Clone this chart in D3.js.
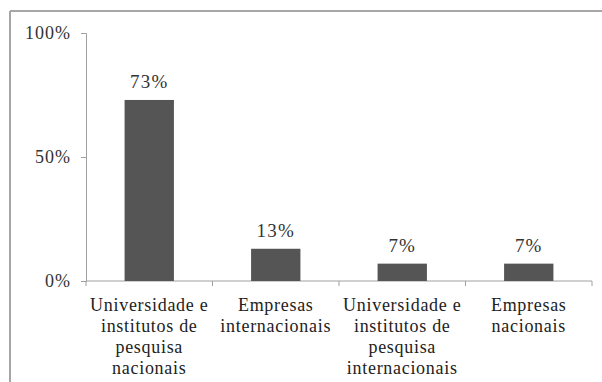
<!DOCTYPE html>
<html>
<head>
<meta charset="utf-8">
<script src="https://cdn.jsdelivr.net/npm/d3@7"></script>
<style>
  html, body { margin: 0; padding: 0; background: #fff; }
  svg { display: block; }
</style>
</head>
<body>
<svg id="chart" width="602" height="382"></svg>
<script>
// Partner types and share of cooperation (%)
const categories = [
  ["Universidade e", "institutos de", "pesquisa", "nacionais"],
  ["Empresas", "internacionais"],
  ["Universidade e", "institutos de", "pesquisa", "internacionais"],
  ["Empresas", "nacionais"]
];
const values = [73, 13, 7, 7];
const yTicks = [0, 50, 100];

const FONT = "'Liberation Serif', 'DejaVu Serif', 'Times New Roman', serif";
const svg = d3.select("#chart").attr("font-family", FONT);
const margin = { left: 86, right: 10, top: 33, bottom: 101 };
const W = 602, H = 382;

// Outer frame (left and top edges visible)
svg.append("line").attr("x1", 10).attr("x2", 10).attr("y1", 11).attr("y2", H)
  .attr("stroke", "#a6a6a6").attr("stroke-width", 2);
svg.append("line").attr("x1", 10).attr("x2", W).attr("y1", 11).attr("y2", 11)
  .attr("stroke", "#a6a6a6").attr("stroke-width", 2);

const x = d3.scaleBand()
  .domain(d3.range(categories.length))
  .range([margin.left, W - margin.right])
  .paddingInner(0.61).paddingOuter(0.305);

const y = d3.scaleLinear().domain([0, 100]).range([H - margin.bottom, margin.top]);

// Y axis
const yAxis = svg.append("g").attr("transform", `translate(${margin.left},0)`)
  .call(d3.axisLeft(y).tickValues(yTicks).tickSize(5).tickPadding(10).tickFormat(d => d + "%"));
yAxis.attr("font-family", FONT);
yAxis.select(".domain").attr("stroke", "#a0a0a0");
yAxis.selectAll(".tick line").attr("stroke", "#a0a0a0");
yAxis.selectAll(".tick text").attr("font-size", 18).attr("letter-spacing", 1).attr("fill", "#333");

// X axis baseline with ticks at category boundaries
const y0 = y(0);
svg.append("line").attr("x1", margin.left).attr("x2", W - margin.right)
  .attr("y1", y0).attr("y2", y0).attr("stroke", "#a0a0a0");
const bounds = d3.range(categories.length + 1).map(i => margin.left + i * (W - margin.right - margin.left) / categories.length);
svg.selectAll("line.xt").data(bounds).join("line").attr("class", "xt")
  .attr("x1", d => d).attr("x2", d => d).attr("y1", y0).attr("y2", y0 + 5)
  .attr("stroke", "#a0a0a0");

// Bars
svg.selectAll("rect.bar").data(values).join("rect").attr("class", "bar")
  .attr("x", (d, i) => x(i)).attr("width", x.bandwidth())
  .attr("y", d => y(d)).attr("height", d => y0 - y(d))
  .attr("fill", "#555555");

// Value labels
svg.selectAll("text.val").data(values).join("text").attr("class", "val")
  .attr("x", (d, i) => x(i) + x.bandwidth() / 2).attr("y", d => y(d) - 12)
  .attr("text-anchor", "middle").attr("font-size", 19).attr("letter-spacing", 1.2)
  .attr("fill", "#333")
  .text(d => d + "%");

// Category labels
const cat = svg.selectAll("text.cat").data(categories).join("text").attr("class", "cat")
  .attr("text-anchor", "middle").attr("font-size", 18).attr("letter-spacing", 0.7)
  .attr("fill", "#222");
cat.selectAll("tspan").data((d, i) => d.map(s => ({ s, i }))).join("tspan")
  .attr("x", d => x(d.i) + x.bandwidth() / 2)
  .attr("y", (d, j) => y0 + 30 + j * 21)
  .text(d => d.s);
</script>
</body>
</html>
